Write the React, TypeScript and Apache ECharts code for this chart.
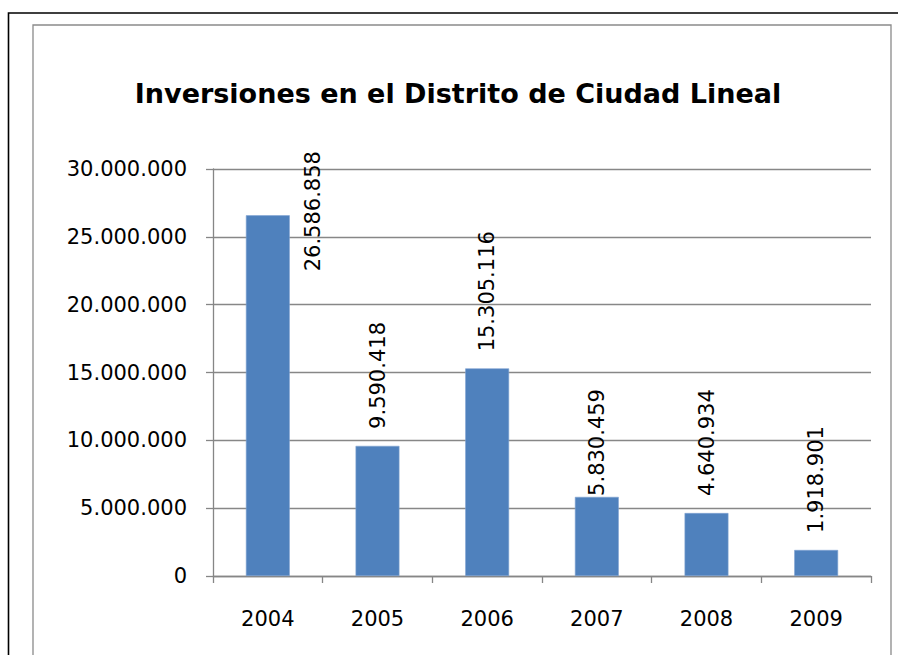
import React, { useEffect, useRef } from "react";
import * as echarts from "echarts";

const years = ["2004", "2005", "2006", "2007", "2008", "2009"];
const inversiones = [26586858, 9590418, 15305116, 5830459, 4640934, 1918901];
const titleText = "Inversiones en el Distrito de Ciudad Lineal";

const fmt = (v: number) =>
  Math.round(v).toString().replace(/\B(?=(\d{3})+(?!\d))/g, ".");

export default function App() {
  const ref = useRef<HTMLDivElement>(null);
  useEffect(() => {
    if (!ref.current) return;
    const chart = echarts.init(ref.current, null, { renderer: "svg" });
    const font = "DejaVu Sans";
    const data = inversiones.map((v, i) => {
      if (i === 0) {
        return { value: v, label: { position: [67, 56], distance: 0 } };
      }
      if (i === 3) {
        return { value: v, label: { distance: 1 } };
      }
      return { value: v };
    });
    chart.setOption({
      animation: false,
      backgroundColor: "#ffffff",
      title: {
        text: titleText,
        left: 453,
        top: 75,
        textAlign: "center",
        textStyle: {
          fontFamily: font,
          fontWeight: "bold",
          fontSize: 27,
          color: "#000000",
        },
      },
      graphic: [
        {
          type: "rect",
          shape: { x: 8.5, y: 13, width: 1200, height: 1200 },
          style: { fill: "none", stroke: "#000000", lineWidth: 1.6 },
          silent: true,
        },
        {
          type: "rect",
          shape: { x: 33, y: 25, width: 858, height: 1200 },
          style: { fill: "none", stroke: "#8a8a8a", lineWidth: 1.3 },
          silent: true,
        },
      ],
      grid: { left: 213, right: 27, top: 169, bottom: 79, containLabel: false },
      xAxis: {
        type: "category",
        data: years,
        axisLine: { show: true, lineStyle: { color: "#868686", width: 1.3 } },
        axisTick: { show: true, length: 7, lineStyle: { color: "#868686", width: 1.3 } },
        axisLabel: {
          fontFamily: font,
          fontSize: 21,
          color: "#000000",
          margin: 32,
        },
      },
      yAxis: {
        type: "value",
        min: 0,
        max: 30000000,
        interval: 5000000,
        axisLine: { show: true, lineStyle: { color: "#868686", width: 1.3 } },
        axisTick: { show: true, length: 7, lineStyle: { color: "#868686", width: 1.3 } },
        splitLine: { show: true, lineStyle: { color: "#878787", width: 1.3 } },
        axisLabel: {
          fontFamily: font,
          fontSize: 21,
          color: "#000000",
          margin: 26,
          formatter: (v: number) => fmt(v),
        },
      },
      series: [
        {
          type: "bar",
          data,
          barWidth: "40%",
          itemStyle: { color: "#4F81BD", borderColor: "#7FA3D1", borderWidth: 0.6 },
          label: {
            show: true,
            position: "top",
            rotate: 90,
            align: "left",
            verticalAlign: "middle",
            distance: 17,
            fontFamily: font,
            fontSize: 21,
            color: "#000000",
            formatter: (p: any) => fmt(p.value),
          },
        },
      ],
    });
    return () => chart.dispose();
  }, []);
  return (
    <div
      ref={ref}
      style={{ position: "fixed", left: 0, top: 0, width: 898, height: 655 }}
    />
  );
}
